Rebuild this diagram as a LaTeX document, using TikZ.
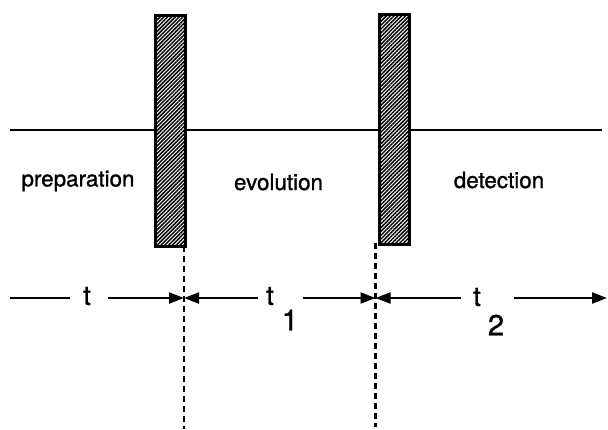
\documentclass[tikz,border=0pt]{standalone}
\usepackage{fontspec}
\setmainfont{TeX Gyre Heros}[FakeBold=1.1]
\usetikzlibrary{arrows.meta,patterns.meta}
\begin{document}
\begin{tikzpicture}[x=0.5pt,y=-0.5pt,
  pulse/.style={draw=black,line width=1.6pt,
    preaction={fill=white},
    pattern={Lines[angle=45,distance=1.35pt,line width=0.75pt]},
    pattern color=black,
    minimum width=15pt,inner sep=0pt,anchor=north west},
  axis/.style={line width=1pt},
  marker/.style={line width=1.1pt,dash pattern=on 3pt off 2pt},
  span/.style={line width=1pt,-{Triangle[length=7.5pt,width=5.5pt]}},
  phase/.style={font=\fontsize{11.2}{13}\selectfont,inner sep=0pt},
  tlabel/.style={font=\fontsize{13.5}{15}\selectfont,inner sep=0pt},
  sublabel/.style={font=\fontsize{14.5}{16}\selectfont,inner sep=0pt}]
\useasboundingbox (0,0) rectangle (608,429);

% base line of the sequence
\coordinate (lineL) at (10,130);
\coordinate (lineR) at (602,130);
\draw[axis] (lineL) -- (lineR);

% the two pulses
\node[pulse,minimum height=115.5pt] (p1) at (155,15) {};
\node[pulse,minimum height=115pt] (p2) at (377.5,13) {};

% period names
\node[phase] (prep) at (78,181) {preparation};
\node[phase] (evol) at (278.5,182) {evolution};
\node[phase] (detc) at (499,180) {detection};

% time markers
\coordinate (m1top) at (184,246);
\coordinate (m1bot) at (184,429);
\coordinate (m2top) at (375.5,243);
\coordinate (m2bot) at (375.5,427);
\draw[marker] (m1top) -- (m1bot);
\draw[marker] (m2top) -- (m2bot);

% time axis
\coordinate (m1) at (184,298);
\coordinate (m2) at (375.5,298);
\coordinate (a0) at (10,298);
\coordinate (a1) at (70,298);
\coordinate (a2) at (108,298);
\coordinate (b1) at (258,298);
\coordinate (b2) at (303,298);
\coordinate (c1) at (461,298);
\coordinate (c2) at (514,298);
\coordinate (cend) at (607,298);

\node[tlabel] (t0) at (87,296) {t};
\node[tlabel] (t1) at (270,296) {t};
\node[sublabel] (s1) at (290,320) {1};
\node[tlabel] (t2) at (477,297) {t};
\node[sublabel] (s2) at (496,325) {2};

\draw[axis] (a0) -- (a1);
\draw[span] (a2) -- (m1);
\draw[span] (b1) -- (m1);
\draw[span] (b2) -- (m2);
\draw[span] (c1) -- (m2);
\draw[span] (c2) -- (cend);
\end{tikzpicture}
\end{document}
